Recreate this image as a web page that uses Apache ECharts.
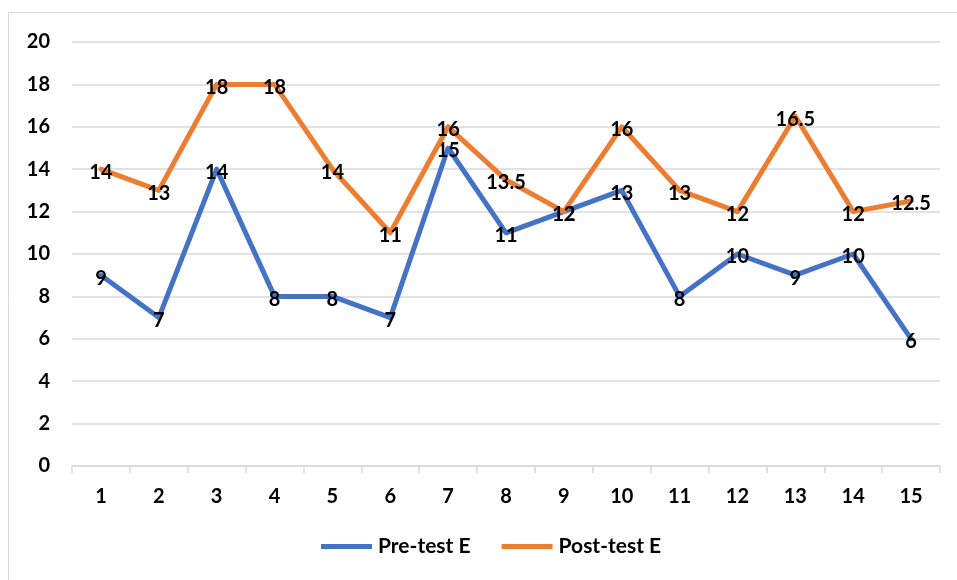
<!DOCTYPE html>
<html>
<head>
<meta charset="utf-8">
<script src="https://cdn.jsdelivr.net/npm/echarts@6/dist/echarts.min.js"></script>
<style>
  html, body { margin: 0; padding: 0; background: #fff; }
  #chart { width: 957px; height: 580px; }
</style>
</head>
<body>
<div id="chart"></div>
<script>
// Student scores, pre-test vs post-test
const categories = ['1','2','3','4','5','6','7','8','9','10','11','12','13','14','15'];
const preTest = [9, 7, 14, 8, 8, 7, 15, 11, 12, 13, 8, 10, 9, 10, 6];
const postTest = [14, 13, 18, 18, 14, 11, 16, 13.5, 12, 16, 13, 12, 16.5, 12, 12.5];
const seriesNames = ['Pre-test E', 'Post-test E'];

const font = 'Lato, "Open Sans", sans-serif';
const gridColor = '#D9D9D9';

const labelStyle = {
  show: true,
  position: 'inside',
  offset: [0, 3],
  color: '#000',
  fontFamily: font,
  fontWeight: 'bold',
  fontSize: 20
};

const chart = echarts.init(document.getElementById('chart'));
chart.setOption({
  animation: false,
  backgroundColor: '#fff',
  graphic: [{
    type: 'rect',
    shape: { x: 8.5, y: 12.5, width: 960, height: 600 },
    style: { fill: 'none', stroke: '#D9D9D9', lineWidth: 1 },
    silent: true,
    z: -1
  }],
  grid: { left: 72, right: 17, top: 42, bottom: 114, containLabel: false },
  legend: {
    bottom: 18,
    left: 316,
    itemWidth: 51,
    itemHeight: 5,
    itemGap: 31,
    icon: 'rect',
    textStyle: { fontFamily: font, fontWeight: 'bold', fontSize: 21, color: '#000', padding: [0, 0, 0, 1] },
    data: seriesNames
  },
  xAxis: {
    type: 'category',
    data: categories,
    boundaryGap: true,
    axisLine: { lineStyle: { color: gridColor, width: 1.5 } },
    axisTick: { show: true, length: 7, lineStyle: { color: gridColor, width: 1.5 } },
    axisLabel: { margin: 21, color: '#000', fontFamily: font, fontWeight: 'bold', fontSize: 20 }
  },
  yAxis: {
    type: 'value',
    min: 0,
    max: 20,
    interval: 2,
    axisLine: { show: false },
    axisTick: { show: false },
    splitLine: { lineStyle: { color: gridColor, width: 1.5 } },
    axisLabel: { margin: 22, color: '#000', fontFamily: font, fontWeight: 'bold', fontSize: 20 }
  },
  series: [
    {
      name: seriesNames[0],
      type: 'line',
      data: preTest,
      symbol: 'circle',
      symbolSize: 0,
      showSymbol: true,
      color: '#4472C4',
      lineStyle: { width: 5, color: '#4472C4', cap: 'round', join: 'round' },
      itemStyle: { color: '#4472C4' },
      label: labelStyle,
      z: 2
    },
    {
      name: seriesNames[1],
      type: 'line',
      data: postTest,
      symbol: 'circle',
      symbolSize: 0,
      showSymbol: true,
      color: '#ED7D31',
      lineStyle: { width: 5, color: '#ED7D31', cap: 'round', join: 'round' },
      itemStyle: { color: '#ED7D31' },
      label: labelStyle,
      z: 3
    }
  ]
});
</script>
</body>
</html>
